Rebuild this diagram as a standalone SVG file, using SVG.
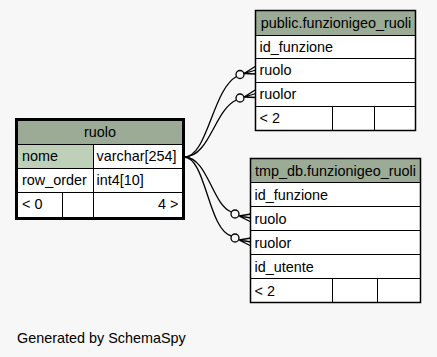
<svg xmlns="http://www.w3.org/2000/svg" width="437" height="357" viewBox="0 0 437 357">
  <style>
    text { font-family: "Liberation Sans", Arial, Helvetica, sans-serif; font-size: 14.4px; fill: #000; }
    .mid { text-anchor: middle; }
    .end { text-anchor: end; }
    .hdr { fill: #9bab96; }
    .key { fill: #bed1b8; }
    .cell { fill: #ffffff; }
    .grid { stroke: #000; stroke-width: 1; fill: none; }
    .frame { stroke: #000; stroke-width: 1.5; fill: none; }
    .focus { stroke: #000; stroke-width: 3; fill: none; }
    .edge { stroke: #000; stroke-width: 1.3; fill: none; }
    .odot { stroke: #000; stroke-width: 1.3; fill: #f7f7f7; }
  </style>

  <rect width="437" height="357" fill="#f7f7f7"/>

  <!-- connectors: ruolo.nome -> referencing columns -->
  <g id="connectors">
    <path class="edge" d="M184,157 C208,157 212,90 236.5,76.5"/>
    <circle class="odot" cx="240" cy="74.5" r="4"/>
    <path class="edge" d="M244,73.5 L256,66 M244,73.5 L256,70 M244,73.5 L256,74"/>

    <path class="edge" d="M184,157 C210,157 214,110 236.5,100"/>
    <circle class="odot" cx="240" cy="98" r="4"/>
    <path class="edge" d="M244,97 L256,89.5 M244,97 L256,93.5 M244,97 L256,97.5"/>

    <path class="edge" d="M184,157 C208,157 212,205 231.5,212"/>
    <circle class="odot" cx="235" cy="214" r="4"/>
    <path class="edge" d="M239,216 L251,214 M239,216 L251,218 M239,216 L251,222"/>

    <path class="edge" d="M184,157 C206,157 208,230 231.5,236"/>
    <circle class="odot" cx="235" cy="238" r="4"/>
    <path class="edge" d="M239,240 L251,238 M239,240 L251,242 M239,240 L251,246"/>
  </g>

  <!-- public.funzionigeo_ruoli -->
  <g id="public.funzionigeo_ruoli">
    <rect class="hdr" x="255.5" y="10.5" width="160" height="25"/>
    <rect class="cell" x="255.5" y="35.5" width="160" height="95"/>
    <path class="grid" d="M255.5,35.5 H415.5 M255.5,58.5 H415.5 M255.5,82.5 H415.5 M255.5,106.5 H415.5 M332.5,106.5 V130.5 M374.5,106.5 V130.5"/>
    <rect class="frame" x="255.5" y="10.5" width="160" height="120"/>
    <text class="mid" x="336" y="28">public.funzionigeo_ruoli</text>
    <text x="259.5" y="51.5">id_funzione</text>
    <text x="259.5" y="75">ruolo</text>
    <text x="259.5" y="99">ruolor</text>
    <text x="259.5" y="123">&lt; 2</text>
  </g>

  <!-- tmp_db.funzionigeo_ruoli -->
  <g id="tmp_db.funzionigeo_ruoli">
    <rect class="hdr" x="250.5" y="158.5" width="170" height="24"/>
    <rect class="cell" x="250.5" y="182.5" width="170" height="120"/>
    <path class="grid" d="M250.5,182.5 H420.5 M250.5,206.5 H420.5 M250.5,230.5 H420.5 M250.5,254.5 H420.5 M250.5,278.5 H420.5 M332.5,278.5 V302.5 M377.5,278.5 V302.5"/>
    <rect class="frame" x="250.5" y="158.5" width="170" height="144"/>
    <text class="mid" x="335.5" y="175.5">tmp_db.funzionigeo_ruoli</text>
    <text x="254.5" y="199.5">id_funzione</text>
    <text x="254.5" y="223.5">ruolo</text>
    <text x="254.5" y="247.5">ruolor</text>
    <text x="254.5" y="271.5">id_utente</text>
    <text x="254.5" y="295.5">&lt; 2</text>
  </g>

  <!-- ruolo (focus table) -->
  <g id="ruolo">
    <rect class="hdr" x="18" y="121" width="164" height="23.5"/>
    <rect class="key" x="18" y="144.5" width="75.5" height="24"/>
    <rect class="cell" x="93.5" y="144.5" width="88.5" height="24"/>
    <rect class="cell" x="18" y="168.5" width="164" height="49"/>
    <path class="grid" d="M18,144.5 H182 M18,168.5 H182 M18,192.5 H182 M93.5,144.5 V192.5 M62.5,192.5 V217 M93.5,192.5 V217"/>
    <rect class="focus" x="16.5" y="119.5" width="167" height="99"/>
    <text class="mid" x="100" y="137">ruolo</text>
    <text x="22" y="161">nome</text>
    <text x="96.5" y="161">varchar[254]</text>
    <text x="22" y="185">row_order</text>
    <text x="96.5" y="185">int4[10]</text>
    <text x="22" y="209">&lt; 0</text>
    <text class="end" x="178.5" y="209">4 &gt;</text>
  </g>

  <text x="17" y="343">Generated by SchemaSpy</text>
</svg>
